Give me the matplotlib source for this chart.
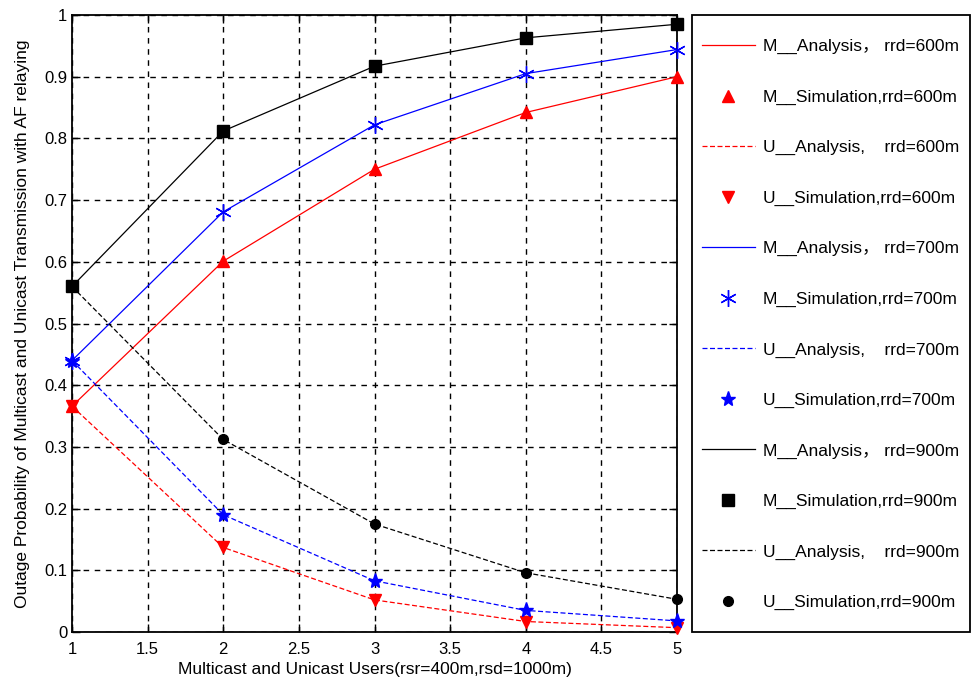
import numpy as np
import matplotlib
matplotlib.use('Agg')
import matplotlib.pyplot as plt
from matplotlib.patches import Rectangle

plt.rcParams['font.family'] = ['Liberation Sans', 'Noto Sans CJK SC']

# data
users = [1, 2, 3, 4, 5]
m_600 = [0.366, 0.601, 0.750, 0.842, 0.900]
u_600 = [0.366, 0.137, 0.052, 0.017, 0.007]
m_700 = [0.440, 0.681, 0.822, 0.905, 0.944]
u_700 = [0.440, 0.190, 0.083, 0.035, 0.018]
m_900 = [0.560, 0.812, 0.917, 0.963, 0.985]
u_900 = [0.560, 0.312, 0.175, 0.096, 0.053]

fig = plt.figure(figsize=(9.71, 6.85), dpi=100)
ax = fig.add_axes([72/971, 53/685, 605/971, 617/685])

lw = 0.9
mk = dict(ls='none', clip_on=False, zorder=5)
ax.plot(users, m_600, 'r-', lw=lw, label='M__Analysis\uff0c rrd=600m')
ax.plot(users, m_600, 'r^', ms=8, label='M__Simulation,rrd=600m', **mk)
ax.plot(users, u_600, 'r--', lw=lw, dashes=(4, 2), label='U__Analysis,    rrd=600m')
ax.plot(users, u_600, 'rv', ms=8, label='U__Simulation,rrd=600m', **mk)
ax.plot(users, m_700, 'b-', lw=lw, label='M__Analysis\uff0c rrd=700m')
ax.plot(users, m_700, color='b', marker=(6, 2, 0), ms=12, mew=1.0,
        label='M__Simulation,rrd=700m', **mk)
ax.plot(users, u_700, 'b--', lw=lw, dashes=(4, 2), label='U__Analysis,    rrd=700m')
ax.plot(users, u_700, 'b*', ms=11, label='U__Simulation,rrd=700m', **mk)
ax.plot(users, m_900, 'k-', lw=lw, label='M__Analysis\uff0c rrd=900m')
ax.plot(users, m_900, 'ks', ms=8, label='M__Simulation,rrd=900m', **mk)
ax.plot(users, u_900, 'k--', lw=lw, dashes=(4, 2), label='U__Analysis,    rrd=900m')
ax.plot(users, u_900, 'ko', ms=7, label='U__Simulation,rrd=900m', **mk)

ax.set_xlim(1, 5)
ax.set_ylim(0, 1)
ax.set_xticks(np.arange(1, 5.01, 0.5))
ax.set_xticklabels(['1', '1.5', '2', '2.5', '3', '3.5', '4', '4.5', '5'])
ax.set_yticks(np.arange(0, 1.01, 0.1))
ax.set_yticklabels(['0', '0.1', '0.2', '0.3', '0.4', '0.5', '0.6', '0.7', '0.8', '0.9', '1'])
ax.tick_params(direction='in', top=True, right=True, labelsize=12, length=6, width=1)
ax.tick_params(axis='x', pad=7)
ax.grid(True, color='k', ls=(0, (4, 4)), lw=1.0)
for s in ax.spines.values():
    s.set_linewidth(1.3)

ax.set_xlabel('Multicast and Unicast Users(rsr=400m,rsd=1000m)', fontsize=12.5, labelpad=4)
ax.set_ylabel('Outage Probability of Multicast and Unicast Transmission with AF relaying',
              fontsize=12.5, labelpad=10)

# legend frame drawn separately so the entries can be placed freely
fig.patches.append(Rectangle((692/971, 53/685), 278/971, 617/685, transform=fig.transFigure,
                             fill=False, edgecolor='k', lw=1.3))
leg = fig.legend(loc='upper left', bbox_to_anchor=(702/971, 646/685), fontsize=12.5,
                 frameon=False, handlelength=3.05, handletextpad=0.46, labelspacing=2.03,
                 borderpad=0, borderaxespad=0)

fig.savefig('out.png', dpi=100)
